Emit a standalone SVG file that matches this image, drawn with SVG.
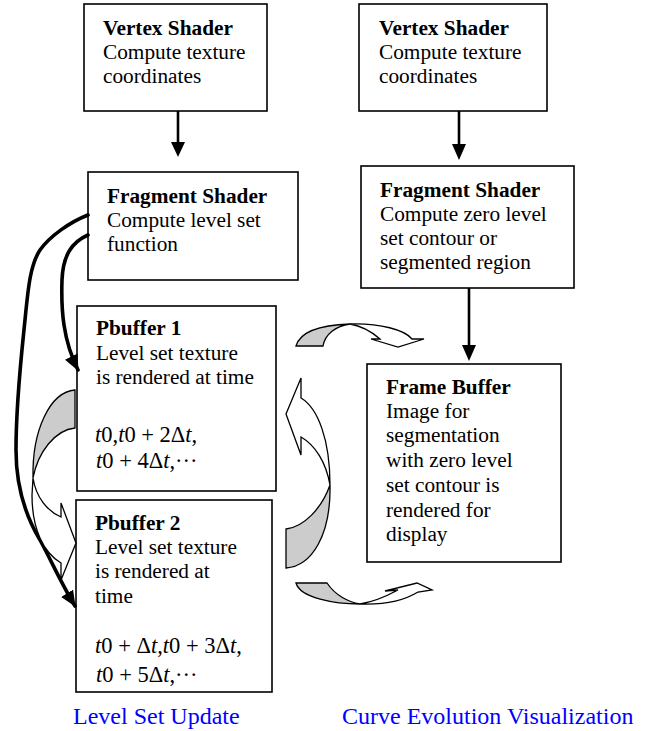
<svg xmlns="http://www.w3.org/2000/svg" width="645" height="731" viewBox="0 0 645 731">
<style>
.box{fill:#fff;stroke:#000;stroke-width:1.6}
.t{font-family:"Liberation Serif","Times New Roman",serif;font-size:21.3px;fill:#000}
.m{font-size:22.5px}
.b{font-weight:bold}
.i{font-style:italic}
.lab{font-family:"Liberation Serif","Times New Roman",serif;font-size:24px;fill:#0000ff}
.ln{fill:none;stroke:#000;stroke-width:2.6}
.thick{fill:none;stroke:#000;stroke-width:3.6;stroke-linecap:round}
.hd{fill:#000;stroke:none}
.g{fill:#cccccc;stroke:#000;stroke-width:1.3;stroke-linejoin:miter}
.w{fill:#fff;stroke:#000;stroke-width:1.3;stroke-linejoin:miter}
</style>
<defs>
<marker id="ah" markerWidth="18" markerHeight="16" refX="15" refY="7" orient="auto" markerUnits="userSpaceOnUse">
<path d="M0,0 L16,7 L0,14 Z" fill="#000"/>
</marker>
</defs>

<g id="vs1">
<rect class="box" x="84" y="4" width="183" height="107"/>
<text class="t b" x="103" y="35">Vertex Shader</text>
<text class="t" x="103" y="59">Compute texture</text>
<text class="t" x="103" y="83">coordinates</text>
</g>

<g id="fs1">
<rect class="box" x="88" y="172" width="210" height="108"/>
<text class="t b" x="107" y="203">Fragment Shader</text>
<text class="t" x="107" y="227">Compute level set</text>
<text class="t" x="107" y="251">function</text>
</g>

<g id="vs2">
<rect class="box" x="359" y="4" width="188" height="107"/>
<text class="t b" x="379" y="35">Vertex Shader</text>
<text class="t" x="379" y="59">Compute texture</text>
<text class="t" x="379" y="83">coordinates</text>
</g>

<g id="fs2">
<rect class="box" x="361" y="166" width="213" height="122"/>
<text class="t b" x="380" y="197">Fragment Shader</text>
<text class="t" x="380" y="221">Compute zero level</text>
<text class="t" x="380" y="245">set contour or</text>
<text class="t" x="380" y="269">segmented region</text>
</g>

<g id="pb1">
<rect class="box" x="77" y="306" width="199" height="185"/>
<text class="t b" x="96" y="335">Pbuffer 1</text>
<text class="t" x="96" y="360">Level set texture</text>
<text class="t" x="96" y="384">is rendered at time</text>
<text class="t m" x="95" y="442"><tspan class="i">t</tspan>0,<tspan class="i">t</tspan>0 + 2Δ<tspan class="i">t</tspan>,</text>
<text class="t m" x="96" y="468"><tspan class="i">t</tspan>0 + 4Δ<tspan class="i">t</tspan>,···</text>
</g>

<g id="pb2">
<rect class="box" x="76" y="500" width="196" height="192"/>
<text class="t b" x="95" y="530">Pbuffer 2</text>
<text class="t" x="95" y="554">Level set texture</text>
<text class="t" x="95" y="578">is rendered at</text>
<text class="t" x="95" y="603">time</text>
<text class="t m" x="95" y="653"><tspan class="i">t</tspan>0 + Δ<tspan class="i">t</tspan>,<tspan class="i">t</tspan>0 + 3Δ<tspan class="i">t</tspan>,</text>
<text class="t m" x="96" y="682"><tspan class="i">t</tspan>0 + 5Δ<tspan class="i">t</tspan>,···</text>
</g>

<g id="fb">
<rect class="box" x="367" y="364" width="194" height="198"/>
<text class="t b" x="386" y="394">Frame Buffer</text>
<text class="t" x="386" y="418">Image for</text>
<text class="t" x="386" y="442">segmentation</text>
<text class="t" x="386" y="467">with zero level</text>
<text class="t" x="386" y="492">set contour is</text>
<text class="t" x="386" y="517">rendered for</text>
<text class="t" x="386" y="541">display</text>
</g>

<g id="labels">
<text class="lab" x="73" y="724">Level Set Update</text>
<text class="lab" x="342" y="724">Curve Evolution Visualization</text>
</g>

<g id="connectors">
<line class="ln" x1="178" y1="111" x2="178" y2="143"/>
<path class="hd" d="M171,142 L185,142 L178,157 Z"/>
<line class="ln" x1="459" y1="111" x2="459" y2="145"/>
<path class="hd" d="M452,144 L466,144 L459,160 Z"/>
<line class="ln" x1="469" y1="288" x2="469" y2="346"/>
<path class="hd" d="M462,345 L476,345 L469,361 Z"/>

<path class="thick" d="M88,215 C70,222 50,236 40,250 C30,265 28,290 25,320 C22,350 16,400 16,450 C16,490 28,520 40,540 C52,562 62,585 75,606" marker-end="url(#ah)"/>
<path class="thick" d="M88,235 C72,242 63,255 62,280 C61,310 63,340 78,370" marker-end="url(#ah)"/>

<g id="cra-left">
<path class="g" d="M75,390 C50,392 32,430 33,478 C38,452 55,430 75,428 Z"/>
<path class="w" d="M33,478 C36,497 47,511 61,517 L61,503 L76,543 L61,580 L61,563 C44,553 32,530 32,495 Z"/>
</g>
<g id="cla-right">
<path class="w" d="M301,398 C318,408 330,440 330,485 C326,462 315,445 301,437 L301,455 L286,414 L301,378 Z"/>
<path class="g" d="M330,485 C331,535 312,566 286,568 L286,529 C304,527 322,508 330,485 Z"/>
</g>
<g id="cda-top">
<path class="g" d="M296,346 C300,332 320,325 350,324 C336,326 325,334 323,346 Z"/>
<path class="w" d="M350,324 C380,323 405,330 412,339 L424,339 L398,347 L371,339 L380,339 C372,332 362,326 350,324 Z"/>
</g>
<g id="cua-bottom">
<path class="g" d="M296,583 L327,583 C335,595 348,602 360,604 C335,604 300,598 296,583 Z"/>
<path class="w" d="M360,604 C385,605 405,600 418,592 L432,590 L417,583 L385,591 L398,590 C385,597 372,602 360,604 Z"/>
</g>
</g>
</svg>
